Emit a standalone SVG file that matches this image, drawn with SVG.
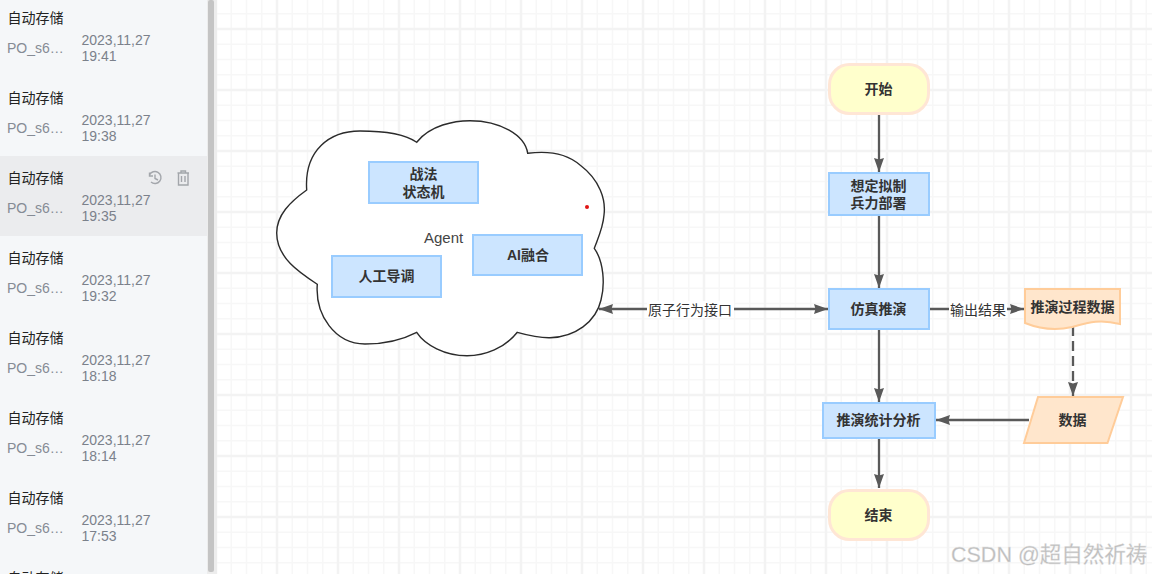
<svg xmlns="http://www.w3.org/2000/svg" width="1152" height="574" viewBox="0 0 1152 574">
<style>
text{font-family:"Liberation Sans","Noto Sans CJK SC",sans-serif;font-size:14px}
.t{fill:#222}.p{fill:#858b95}.d{fill:#7b818b}
.n{font-weight:bold;fill:#333;text-anchor:middle}
.l{fill:#333;text-anchor:middle}
.b{fill:#cce5ff;stroke:#99ccff;stroke-width:2}
.y{fill:#ffffcc;stroke:#ffe6d5;stroke-width:3}
.o{fill:#ffe6cc;stroke:#ffcc99;stroke-width:2}
.c{fill:none;stroke:#595959;stroke-width:2.300}
.i{fill:none;stroke:#a3a6ab;stroke-width:1.4}
</style>
<defs>
<pattern id="grid" x="216" y="29" width="61" height="61" patternUnits="userSpaceOnUse">
<path d="M15.25 0V61M30.5 0V61M45.75 0V61M0 15.25H61M0 30.5H61M0 45.75H61" fill="none" stroke="#f7f7f7" stroke-width="1.500"/>
<path d="M0 0V61M61 0V61M0 0H61M0 61H61" fill="none" stroke="#f3f3f3" stroke-width="2.500"/>
</pattern>
<marker id="a" markerUnits="userSpaceOnUse" markerWidth="15" markerHeight="12" refX="14" refY="6" orient="auto-start-reverse">
<path d="M0 1L14 6L0 11L1.500 6Z" fill="#595959"/>
</marker>
</defs>
<rect width="1152" height="574" fill="#fff"/>
<rect x="217" width="935" height="574" fill="url(#grid)"/>

<g id="sidebar">
<rect width="207" height="574" fill="#f5f7f9"/>
<rect y="156" width="207" height="80" fill="#ebecee"/>
<rect x="207" width="10" height="574" fill="#ededed"/>
<rect x="208" width="6" height="572" rx="2" fill="#c4c4c4"/>
<path class="i" d="M149.500 175A6 6 0 1 1 151 182M149.500 172.500V176H153M155 174.500V178.500L158 180"/>
<path class="i" d="M177.500 173H189M181 173V171H185.500V173M178.500 173V185H188V173M181.500 176V182M185 176V182"/>
<g id="item1"><text class="t" x="7.500" y="23">自动存储</text><text class="p" x="7" y="53">PO_s6…</text><text class="d" x="81.500" y="45">2023,11,27</text><text class="d" x="81.500" y="61">19:41</text></g>
<g id="item2"><text class="t" x="7.500" y="103">自动存储</text><text class="p" x="7" y="133">PO_s6…</text><text class="d" x="81.500" y="125">2023,11,27</text><text class="d" x="81.500" y="141">19:38</text></g>
<g id="item3"><text class="t" x="7.500" y="183">自动存储</text><text class="p" x="7" y="213">PO_s6…</text><text class="d" x="81.500" y="205">2023,11,27</text><text class="d" x="81.500" y="221">19:35</text></g>
<g id="item4"><text class="t" x="7.500" y="263">自动存储</text><text class="p" x="7" y="293">PO_s6…</text><text class="d" x="81.500" y="285">2023,11,27</text><text class="d" x="81.500" y="301">19:32</text></g>
<g id="item5"><text class="t" x="7.500" y="343">自动存储</text><text class="p" x="7" y="373">PO_s6…</text><text class="d" x="81.500" y="365">2023,11,27</text><text class="d" x="81.500" y="381">18:18</text></g>
<g id="item6"><text class="t" x="7.500" y="423">自动存储</text><text class="p" x="7" y="453">PO_s6…</text><text class="d" x="81.500" y="445">2023,11,27</text><text class="d" x="81.500" y="461">18:14</text></g>
<g id="item7"><text class="t" x="7.500" y="503">自动存储</text><text class="p" x="7" y="533">PO_s6…</text><text class="d" x="81.500" y="525">2023,11,27</text><text class="d" x="81.500" y="541">17:53</text></g>
<g id="item8"><text class="t" x="7.500" y="583">自动存储</text></g>
</g>

<g id="agent">
<path d="M306.700 190C304 150 330 131 360 131C385 131 405 134 416.700 142.300C430 125 455 120.700 470 120.700C500 120.700 525 135 527.700 153.300C545 151 565 152 580 165C600 180 606 200 604 215C603 228 598 238 594.300 248.300C604 262 605 285 601 300C596 322 575 337 550 337.700C538 338 527 335 517.300 332.300C505 348 485 355.700 467 355.700C445 355.700 425 345 416.700 332.300C400 341 380 344 365 344C335 344 315 315 317.300 284.300C300 273 276.700 258 276.700 233C276.700 215 290 202 306.700 190Z" fill="#fff" stroke="#2b2b2b" stroke-width="1.400"/>
<text x="424" y="243" style="font-size:15px" fill="#444">Agent</text>
<circle cx="587" cy="207" r="2" fill="#e01414"/>
</g>

<g id="connectors">
<path class="c" marker-end="url(#a)" d="M879 115V172"/>
<path class="c" marker-end="url(#a)" d="M879 215V288"/>
<path class="c" marker-start="url(#a)" marker-end="url(#a)" d="M599 309H828"/>
<path class="c" marker-end="url(#a)" d="M930 309H1024"/>
<path class="c" marker-end="url(#a)" d="M1073 326V396" stroke-dasharray="10 5"/>
<path class="c" marker-end="url(#a)" d="M1029 420H936"/>
<path class="c" marker-end="url(#a)" d="M879 329V402"/>
<path class="c" marker-end="url(#a)" d="M879 438V488"/>
<rect x="647" y="301" width="87" height="17" fill="#fff"/>
<text class="l" x="690" y="314.500">原子行为接口</text>
<rect x="949" y="301" width="58" height="17" fill="#fff"/>
<text class="l" x="978" y="314.500" fill="#222">输出结果</text>
</g>

<g id="n-tactics"><rect class="b" x="369" y="162" width="109" height="41"/><text class="n" x="423.500" y="179">战法</text><text class="n" x="423.500" y="197">状态机</text></g>
<g id="n-ai"><rect class="b" x="473" y="235" width="109" height="40"/><text class="n" x="528" y="260">AI融合</text></g>
<g id="n-human"><rect class="b" x="332" y="256" width="109" height="41"/><text class="n" x="386.500" y="281">人工导调</text></g>
<g id="n-start"><rect class="y" x="829.500" y="64.500" width="99" height="49" rx="20"/><text class="n" x="878.500" y="94">开始</text></g>
<g id="n-plan"><rect class="b" x="829" y="173" width="100" height="42"/><text class="n" x="878.500" y="191">想定拟制</text><text class="n" x="878.500" y="208">兵力部署</text></g>
<g id="n-sim"><rect class="b" x="829" y="289" width="100" height="40"/><text class="n" x="878.500" y="314">仿真推演</text></g>
<g id="n-doc"><path class="o" d="M1025 289H1120V324C1100 319 1090 322 1072 327C1055 331 1040 329 1025 323Z"/><text class="n" x="1072.500" y="312">推演过程数据</text></g>
<g id="n-data"><path class="o" d="M1038 397H1123L1107.500 443H1024Z"/><text class="n" x="1072.500" y="425">数据</text></g>
<g id="n-stat"><rect class="b" x="823" y="403" width="112" height="35"/><text class="n" x="878.500" y="425">推演统计分析</text></g>
<g id="n-end"><rect class="y" x="829.500" y="490.500" width="99" height="49" rx="20"/><text class="n" x="878.500" y="519.500">结束</text></g>

<text x="951" y="562" style="font-size:21.500px" fill="#bdbdbd" stroke="#e4e4e4" stroke-width="0.300">CSDN @超自然祈祷</text>
</svg>
